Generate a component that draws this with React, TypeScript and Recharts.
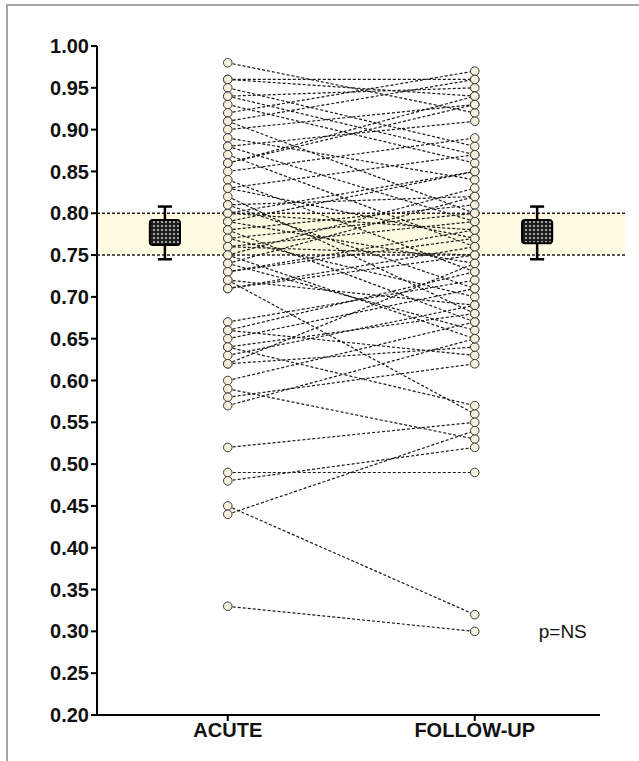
import React from "react";
import {
  ComposedChart,
  XAxis,
  YAxis,
  Scatter,
  ReferenceArea,
  ReferenceLine,
  ReferenceDot,
  Label,
} from "recharts";

// paired values, one entry per patient (acute -> follow-up)
const acute = [
  0.98, 0.96, 0.95, 0.94, 0.93, 0.92, 0.91, 0.9, 0.89, 0.88, 0.87, 0.86, 0.85, 0.84, 0.83,
  0.82, 0.81, 0.8, 0.8, 0.79, 0.78, 0.77, 0.76, 0.75, 0.74, 0.73, 0.72, 0.71, 0.67, 0.66,
  0.65, 0.64, 0.63, 0.62, 0.6, 0.59, 0.58, 0.57, 0.52, 0.49, 0.48, 0.45, 0.44, 0.33,
  0.96, 0.94, 0.91, 0.88, 0.86, 0.83, 0.81, 0.79, 0.78, 0.77, 0.76, 0.75, 0.74, 0.73, 0.72,
  0.71, 0.66, 0.64, 0.62,
];
const followUp = [
  0.92, 0.96, 0.88, 0.95, 0.86, 0.97, 0.8, 0.93, 0.84, 0.91, 0.76, 0.94, 0.89, 0.73, 0.87,
  0.68, 0.82, 0.78, 0.85, 0.74, 0.81, 0.7, 0.79, 0.83, 0.66, 0.77, 0.56, 0.75, 0.72, 0.63,
  0.71, 0.57, 0.69, 0.64, 0.67, 0.53, 0.62, 0.65, 0.55, 0.49, 0.52, 0.32, 0.54, 0.3,
  0.94, 0.87, 0.96, 0.79, 0.93, 0.77, 0.71, 0.85, 0.67, 0.8, 0.75, 0.65, 0.82, 0.78, 0.69,
  0.76, 0.73, 0.68, 0.74,
];

const categories = ["ACUTE", "FOLLOW-UP"];
// whisker low, box low, box high, whisker high
const acuteBox = [0.745, 0.762, 0.792, 0.808];
const followUpBox = [0.745, 0.764, 0.792, 0.808];
const normalBand = [0.75, 0.8];

const yTicks = [
  0.2, 0.25, 0.3, 0.35, 0.4, 0.45, 0.5, 0.55, 0.6, 0.65, 0.7, 0.75, 0.8, 0.85, 0.9, 0.95, 1.0,
];

// horizontal slots on a 0..1 axis
const acuteX = 0.26;
const followX = 0.751;
const boxLeftX = 0.135;
const boxRightX = 0.875;
const boxHalf = 0.03;
const capHalf = 0.014;

const FONT = "'Liberation Sans', Arial, Helvetica, sans-serif";
const LINE = "#1a1a1a";

const pairs = acute.map((a, i) => [
  { x: acuteX, y: a },
  { x: followX, y: followUp[i] },
]);
const acutePts = acute.map((y) => ({ x: acuteX, y }));
const followPts = followUp.map((y) => ({ x: followX, y }));

const Dot = (p: any) => (
  <circle cx={p.cx} cy={p.cy} r={4.3} fill="#f4f0da" stroke="#3a3a3a" strokeWidth={1} />
);
const NoDot = () => <g />;

function boxParts(x: number, s: number[], key: string) {
  return [
    <ReferenceLine
      key={key + "w1"}
      segment={[{ x, y: s[0] }, { x, y: s[1] }]}
      stroke="#000"
      strokeWidth={2.5}
    />,
    <ReferenceLine
      key={key + "w2"}
      segment={[{ x, y: s[2] }, { x, y: s[3] }]}
      stroke="#000"
      strokeWidth={2.5}
    />,
    <ReferenceLine
      key={key + "c1"}
      segment={[{ x: x - capHalf, y: s[0] }, { x: x + capHalf, y: s[0] }]}
      stroke="#000"
      strokeWidth={2.5}
    />,
    <ReferenceLine
      key={key + "c2"}
      segment={[{ x: x - capHalf, y: s[3] }, { x: x + capHalf, y: s[3] }]}
      stroke="#000"
      strokeWidth={2.5}
    />,
    <ReferenceArea
      key={key + "b"}
      x1={x - boxHalf}
      x2={x + boxHalf}
      y1={s[1]}
      y2={s[2]}
      fill="url(#dots)"
      fillOpacity={1}
      stroke="#000"
      strokeWidth={2}
      radius={3}
    />,
  ];
}

export default function App() {
  return (
    <div
      style={{
        position: "absolute",
        left: 0,
        top: 0,
        width: 639,
        height: 761,
        background: "#fff",
      }}
    >
      <div
        style={{
          position: "absolute",
          left: 6,
          top: 4,
          right: 0,
          bottom: 0,
          borderTop: "2px solid #a8a8a8",
          borderLeft: "2px solid #a8a8a8",
        }}
      />
      <ComposedChart
        width={639}
        height={761}
        margin={{ top: 46, right: 39, bottom: 16, left: 0 }}
        style={{ position: "absolute", left: 0, top: 0 }}
      >
        <defs>
          <pattern id="dots" width="4" height="4" patternUnits="userSpaceOnUse">
            <rect width="4" height="4" fill="#1e1e1e" />
            <circle cx="2" cy="2" r="1" fill="#cfcfcf" />
          </pattern>
        </defs>
        <XAxis
          type="number"
          dataKey="x"
          domain={[0, 1]}
          ticks={[acuteX, followX]}
          tickFormatter={(v: number) => (v === acuteX ? categories[0] : categories[1])}
          allowDataOverflow
          height={30}
          axisLine={{ stroke: "#000", strokeWidth: 2 }}
          tickLine={{ stroke: "#000", strokeWidth: 2 }}
          tickSize={6}
          tick={{ fill: "#111", fontSize: 20, fontWeight: 700, fontFamily: FONT }}
        />
        <YAxis
          type="number"
          dataKey="y"
          domain={[0.2, 1]}
          ticks={yTicks}
          interval={0}
          tickFormatter={(v: number) => v.toFixed(2)}
          allowDataOverflow
          width={97}
          axisLine={{ stroke: "#000", strokeWidth: 2 }}
          tickLine={{ stroke: "#000", strokeWidth: 2 }}
          tickSize={6}
          tick={{ fill: "#111", fontSize: 20, fontWeight: 700, fontFamily: FONT }}
        />
        <ReferenceArea
          y1={normalBand[0]}
          y2={normalBand[1]}
          x1={0}
          x2={1.05}
          ifOverflow="visible"
          fill="#fffbe2"
          fillOpacity={1}
          stroke="none"
        />
        {normalBand.map((v) => (
          <ReferenceLine
            key={v}
            segment={[{ x: 0, y: v }, { x: 1.05, y: v }]}
            ifOverflow="visible"
            stroke="#222"
            strokeWidth={1.4}
            strokeDasharray="3 2"
          />
        ))}
        {pairs.map((d, i) => (
          <Scatter
            key={"p" + i}
            data={d}
            line={{ stroke: LINE, strokeWidth: 1.2, strokeDasharray: "3 2" }}
            lineType="joint"
            shape={NoDot}
            isAnimationActive={false}
          />
        ))}
        <Scatter data={acutePts} shape={Dot} isAnimationActive={false} />
        <Scatter data={followPts} shape={Dot} isAnimationActive={false} />
        {boxParts(boxLeftX, acuteBox, "a")}
        {boxParts(boxRightX, followUpBox, "f")}
        <ReferenceDot x={0.926} y={0.3} r={0} stroke="none" fill="none">
          <Label
            value="p=NS"
            position="center"
            fill="#111"
            fontSize={19}
            fontFamily={FONT}
          />
        </ReferenceDot>
      </ComposedChart>
    </div>
  );
}
